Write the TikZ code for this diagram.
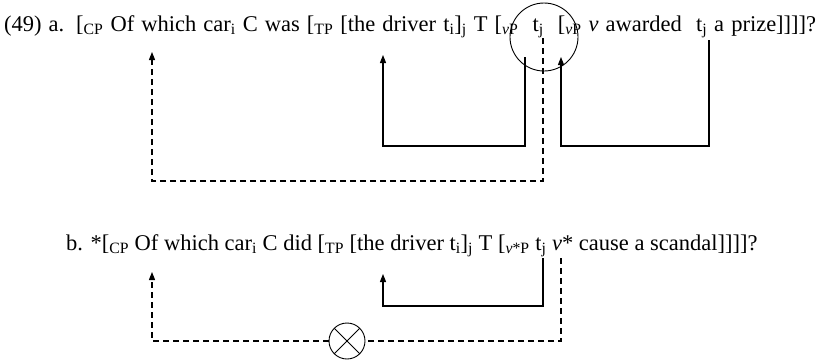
\documentclass[tikz,border=0pt]{standalone}
\usepackage{fontspec}
\setmainfont{Liberation Serif}
\usetikzlibrary{arrows.meta}
\newcommand{\lsub}[1]{\textsubscript{#1}}

\begin{document}
\begin{tikzpicture}[x=1pt,y=-1pt,
  sentence/.style={anchor=base west, inner sep=0pt, font=\fontsize{22.5}{27}\selectfont},
  move/.style={line width=1.1pt, -{Triangle[length=8pt,width=6pt]}},
  plain/.style={line width=1.1pt},
  dmove/.style={move, dash pattern=on 6pt off 4pt},
  dplain/.style={plain, dash pattern=on 6pt off 4pt}]
\useasboundingbox (0,0) rectangle (825,362);

% -----------------------------
% Sentences
% -----------------------------
\node[sentence] (senta) at (4,31)
  {\hbox to 812pt{(49) a. [\lsub{CP} Of which car\lsub{i} C was [\lsub{TP} [the driver t\lsub{i}]\lsub{j} T [\lsub{\textit{v}P}\ \ t\lsub{j}\ \ [\lsub{\textit{v}P} \textit{v} awarded\ \ t\lsub{j} a prize]]]]?}};
\node[sentence] (sentb) at (66,250)
  {b. *[\lsub{CP} Of which car\lsub{i} C did [\lsub{TP} [the driver t\lsub{i}]\lsub{j} T [\lsub{\textit{v}*P} t\lsub{j} \textit{v}* cause a scandal]]]]?};

% phase edge circle in (a)
\node[draw, circle, minimum size=68pt, inner sep=0pt, line width=0.9pt] (phase) at (544,37) {};

% -----------------------------
% Movement paths in (a)
% -----------------------------
\coordinate (aOf)   at (152,52);
\coordinate (aLow)  at (152,181);
\coordinate (aTj)   at (543,38);
\coordinate (aThe)  at (383,55);
\coordinate (aBox)  at (383,146);
\coordinate (aSpec) at (525,57);
\coordinate (aVP)   at (561,57);
\coordinate (aBox2) at (561,146);
\coordinate (aObj)  at (709,40);

\draw[dmove] (aTj) |- (aLow) -- (aOf);
\draw[move] (aSpec) |- (aBox) -- (aThe);
\draw[move] (aObj) |- (aBox2) -- (aVP);

% -----------------------------
% Movement paths in (b)
% -----------------------------
\coordinate (bOf)  at (152,272);
\coordinate (bTj)  at (561,258);
\coordinate (bThe) at (383,274);
\coordinate (bBox) at (383,306);
\coordinate (bSpec) at (543,258);

\node[draw, circle, minimum size=36pt, inner sep=0pt, line width=0.9pt,
  path picture={\draw[line width=0.9pt]
    (path picture bounding box.north west) -- (path picture bounding box.south east)
    (path picture bounding box.north east) -- (path picture bounding box.south west);}]
  (block) at (347,341) {};

\draw[dplain] (bTj) |- (block.east);
\draw[dmove] (block.west) -| (bOf);
\draw[move] (bSpec) |- (bBox) -- (bThe);

\end{tikzpicture}
\end{document}
